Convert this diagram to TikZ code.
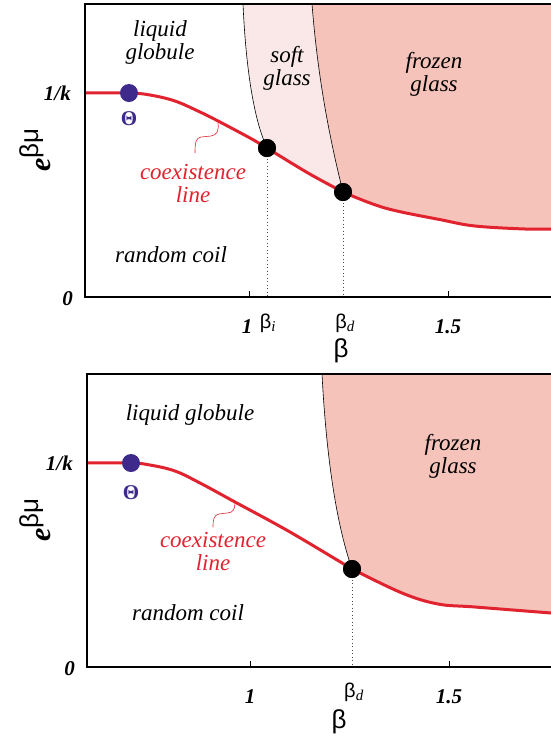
\documentclass[tikz,border=0pt]{standalone}
\usepackage{fontspec}
\setmainfont{Liberation Serif}
\newfontfamily\grk{Liberation Sans}
\definecolor{cRed}{HTML}{E0232E}
\definecolor{cBlue}{HTML}{3D2A8A}
\definecolor{cSoft}{HTML}{F9E8E7}
\definecolor{cFrozen}{HTML}{F5C3BA}
\begin{document}
\begin{tikzpicture}[x=1pt,y=-1pt,
  redline/.style={draw=cRed, line width=3pt},
  squig/.style={draw=cRed, line width=0.6pt},
  bnd/.style={draw=black, line width=0.6pt},
  frameline/.style={draw=black, line width=1.8pt},
  dotv/.style={draw=black!70, dash pattern=on 1pt off 2.5pt, line width=1pt},
  bdot/.style={circle, fill=black, inner sep=0pt, minimum size=18pt},
  thdot/.style={circle, fill=cBlue, inner sep=0pt, minimum size=18pt},
  lbl/.style={font=\fontsize{23}{23}\selectfont\itshape, align=center, inner sep=0pt},
  redlbl/.style={lbl, text=cRed},
  thlbl/.style={font=\fontsize{21}{21}\selectfont\bfseries, text=cBlue, inner sep=0pt},
  ticklbl/.style={font=\fontsize{21}{21}\selectfont\bfseries\itshape, inner sep=0pt, anchor=base},
  ylbl/.style={font=\fontsize{21}{21}\selectfont\bfseries\itshape, inner sep=0pt, anchor=base east},
  blbl/.style={font=\fontsize{20}{20}\selectfont\grk, inner sep=0pt, anchor=base},
  axlbl/.style={font=\fontsize{26}{26}\selectfont\grk, inner sep=0pt, anchor=base},
  ealbl/.style={rotate=90, inner sep=0pt, anchor=base west}
]
\useasboundingbox (0,0) rectangle (551,740);

% ================= TOP PANEL =================
\fill[cSoft] (243,4) .. controls (246,70) and (254,120) .. (267,148)
  -- plot[smooth, tension=0.6] coordinates {(267,148) (308,173) (343,192)}
  -- (343,192) .. controls (330,140) and (318,80) .. (312,4) -- cycle;
\fill[cFrozen] (312,4) .. controls (318,80) and (330,140) .. (343,192)
  -- plot[smooth, tension=0.6] coordinates {(343,192) (385,208) (442,220) (475,226) (525,229) (551,229)}
  -- (551,4) -- cycle;
\draw[bnd] (243,4) .. controls (246,70) and (254,120) .. (267,148);
\draw[bnd] (312,4) .. controls (318,80) and (330,140) .. (343,192);
\coordinate (axT) at (85,297);
\node[bdot] (bi) at (267,148) {};
\node[bdot] (bd) at (343,192) {};
\draw[dotv] (bi.center) -- (bi.center |- axT);
\draw[dotv] (bd.center) -- (bd.center |- axT);
\draw[redline] plot[smooth, tension=0.6] coordinates {(85,93) (129,93) (150,95) (175,101) (200,112) (218,121) (250,138) (267,148)};
\draw[redline] plot[smooth, tension=0.6] coordinates {(267,148) (308,173) (343,192)};
\draw[redline] plot[smooth, tension=0.6] coordinates {(343,192) (385,208) (442,220) (475,226) (525,229) (551,229)};
\draw[squig] (218,123) .. controls (219,131) and (217,135) .. (211,136) -- (201,137) .. controls (196,138) and (195,142) .. (195,153);
\draw[frameline] (551,4) -- (85,4) -- (axT) -- (551,297);
\draw[line width=1pt] (249,297) -- (249,291);
\draw[line width=1pt] (448,297) -- (448,291);
\node[bdot] at (bi) {};
\node[bdot] at (bd) {};
\node[thdot] (th1) at (129,93) {};
\node[thlbl] (tht) at (129,119) {Θ};
\node[lbl] (lg1) at (160,42) {liquid\\globule};
\node[lbl] (sg1) at (287,68) {soft\\glass};
\node[lbl] (fg1) at (434,74) {frozen\\glass};
\node[redlbl] (cl1) at (193,183) {coexistence\\line};
\node[lbl] (rc1) at (171,255) {random coil};
\node[ylbl] (yk1) at (71,100) {1/k};
\node[ylbl] (y01) at (73,305) {0};
\node[ticklbl] (t11) at (247,333) {1};
\node[ticklbl] (t151) at (448,333) {1.5};
\node[blbl] (tbi) at (268,328) {β\textsubscript{\fontsize{15}{15}\selectfont\rmfamily\itshape i}};
\node[blbl] (tbd) at (345,328) {β\textsubscript{\fontsize{15}{15}\selectfont\rmfamily\itshape d}};
\node[axlbl] (xb1) at (341,357) {β};
\node[ealbl] (ey1) at (50,172) {\fontsize{30}{30}\selectfont\bfseries\itshape e\raisebox{12pt}{\fontsize{26}{26}\selectfont\mdseries\upshape\grk βμ}};

% ================= BOTTOM PANEL =================
\fill[cFrozen] (322,374) .. controls (326,450) and (335,520) .. (352,569)
  -- plot[smooth, tension=0.6] coordinates {(352,569) (402,593) (438,604) (475,607) (551,613)}
  -- (551,374) -- cycle;
\draw[bnd] (322,374) .. controls (326,450) and (335,520) .. (352,569);
\coordinate (axB) at (87,667);
\node[bdot] (bd2) at (352,569) {};
\draw[dotv] (bd2.center) -- (bd2.center |- axB);
\draw[redline] plot[smooth, tension=0.6] coordinates {(87,463) (131,463) (150,465) (175,471) (200,483) (235,502) (290,532) (352,569)};
\draw[redline] plot[smooth, tension=0.6] coordinates {(352,569) (402,593) (438,604) (475,607) (551,613)};
\draw[squig] (235,503) .. controls (235,509) and (233,513) .. (227,513) -- (219,514) .. controls (214,515) and (213,519) .. (213,527);
\draw[frameline] (551,374) -- (87,374) -- (axB) -- (551,667);
\draw[line width=1pt] (250,667) -- (250,661);
\draw[line width=1pt] (449,667) -- (449,661);
\node[bdot] at (bd2) {};
\node[thdot] (th2) at (131,463) {};
\node[thlbl] (tht2) at (131,493) {Θ};
\node[lbl] (lg2) at (190,415) {liquid globule};
\node[lbl] (fg2) at (453,456) {frozen\\glass};
\node[redlbl] (cl2) at (213,551) {coexistence\\line};
\node[lbl] (rc2) at (188,613) {random coil};
\node[ylbl] (yk2) at (73,470) {1/k};
\node[ylbl] (y02) at (75,675) {0};
\node[ticklbl] (t12) at (250,703) {1};
\node[ticklbl] (t152) at (449,703) {1.5};
\node[blbl] (tbd2) at (354,697) {β\textsubscript{\fontsize{15}{15}\selectfont\rmfamily\itshape d}};
\node[axlbl] (xb2) at (339,728) {β};
\node[ealbl] (ey2) at (50,542) {\fontsize{30}{30}\selectfont\bfseries\itshape e\raisebox{12pt}{\fontsize{26}{26}\selectfont\mdseries\upshape\grk βμ}};
\end{tikzpicture}
\end{document}
